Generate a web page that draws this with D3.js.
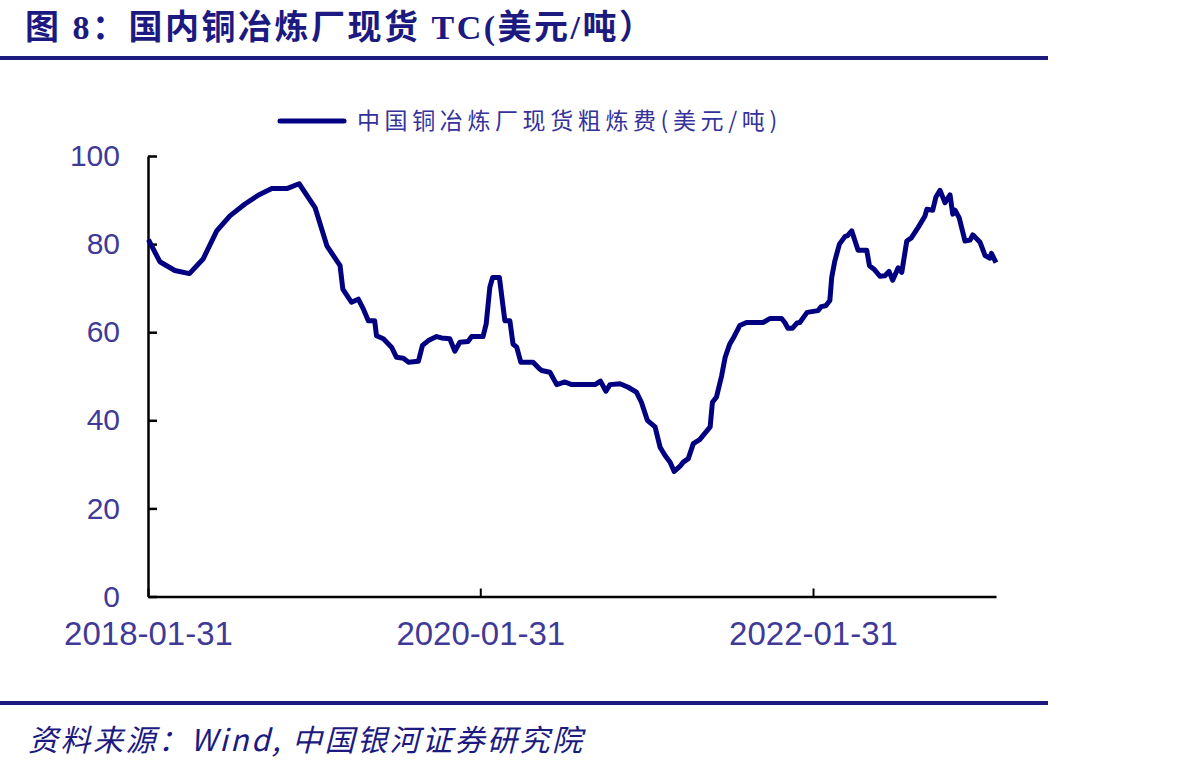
<!DOCTYPE html>
<html><head><meta charset="utf-8">
<script src="https://cdn.jsdelivr.net/npm/d3@7"></script>
<style>html,body{margin:0;padding:0;background:#fff;}svg{display:block;}</style>
</head><body>
<script>
const titleText = "图 8：国内铜冶炼厂现货 TC(美元/吨）";
const legendLabel = "中国铜冶炼厂现货粗炼费(美元/吨)";
const sourceText = "资料来源：Wind, 中国银河证券研究院";
const yTicks = [0, 20, 40, 60, 80, 100];
const xTickLabels = ["2018-01-31", "2020-01-31", "2022-01-31"];
const dates = [
"2018-02-01","2018-02-26","2018-03-31","2018-05-02","2018-06-01","2018-07-01","2018-07-30","2018-09-01","2018-09-30","2018-10-30",
"2018-12-02","2018-12-29","2019-02-02","2019-02-28","2019-03-29","2019-04-04","2019-04-23","2019-05-08","2019-05-19","2019-05-30",
"2019-06-13","2019-06-17","2019-07-02","2019-07-20","2019-07-31","2019-08-15","2019-08-26","2019-09-17","2019-09-26","2019-10-09",
"2019-10-27","2019-11-07","2019-11-25","2019-12-06","2019-12-17","2020-01-04","2020-01-12","2020-02-06","2020-02-13","2020-02-21",
"2020-02-27","2020-03-13","2020-03-25","2020-04-05","2020-04-12","2020-04-20","2020-04-29","2020-05-26","2020-06-09","2020-06-14",
"2020-07-02","2020-07-17","2020-08-04","2020-08-19","2020-10-09","2020-10-21","2020-11-02","2020-11-11","2020-12-03","2020-12-21",
"2021-01-08","2021-01-19","2021-02-01","2021-02-18","2021-03-01","2021-03-12","2021-03-23","2021-04-01","2021-04-14","2021-04-21",
"2021-05-02","2021-05-13","2021-05-27","2021-06-19","2021-06-24","2021-07-03","2021-07-14","2021-07-22","2021-08-01","2021-08-08",
"2021-08-23","2021-09-07","2021-10-13","2021-10-28","2021-11-23","2021-11-30","2021-12-07","2021-12-17","2021-12-27","2022-01-02",
"2022-01-18","2022-02-11","2022-02-18","2022-02-28","2022-03-09","2022-03-13","2022-03-20","2022-03-30","2022-04-11","2022-04-17",
"2022-04-26","2022-05-10","2022-05-29","2022-06-04","2022-06-14","2022-06-27","2022-07-08","2022-07-17","2022-07-25","2022-08-06",
"2022-08-14","2022-08-25","2022-09-04","2022-09-19","2022-10-04","2022-10-08","2022-10-21","2022-10-28","2022-11-06","2022-11-17",
"2022-11-28","2022-12-04","2022-12-09","2022-12-18","2022-12-31","2023-01-11","2023-01-17","2023-02-02","2023-02-05","2023-02-13",
"2023-02-24","2023-02-27","2023-03-09"
];
const tcValues = [
81.0,76.0,74.0,73.3,76.6,83.0,86.4,89.1,91.1,92.6,
92.6,93.7,88.3,79.6,75.1,69.8,66.8,67.5,65.3,62.6,
62.6,59.2,58.5,56.6,54.3,54.1,53.2,53.4,57.0,58.1,
59.0,58.7,58.5,55.7,57.7,57.9,59.0,59.0,61.9,70.2,
72.4,72.4,62.6,62.6,57.3,56.6,53.2,53.2,51.7,51.3,
50.9,48.1,48.7,48.1,48.1,48.9,46.6,48.1,48.3,47.5,
46.4,44.1,40.0,38.5,33.9,32.0,30.5,28.4,29.6,30.5,
31.3,34.7,35.6,38.5,44.1,45.3,50.0,54.3,57.3,58.5,
61.5,62.2,62.2,63.1,63.1,62.2,60.9,60.9,62.1,62.2,
64.5,64.9,65.8,66.0,67.2,72.4,76.2,80.0,81.7,81.9,
83.0,78.6,78.6,75.1,74.3,72.7,72.8,73.8,71.8,74.6,
73.6,80.7,81.4,83.8,86.4,87.9,87.7,90.7,92.2,89.4,
91.2,86.8,87.7,86.0,80.7,80.9,82.1,80.4,79.6,77.4,
76.8,77.9,75.8
];

const W = 1181, H = 771;
const navy = "#1c1a80";
const labelColor = "#3f3a98";
const parse = d3.timeParse("%Y-%m-%d");
const data = dates.map((d, i) => ({date: parse(d), value: tcValues[i]}));

const svg = d3.select("body").append("svg").attr("width", W).attr("height", H);
svg.append("rect").attr("width", W).attr("height", H).attr("fill", "#fff");

// Title
svg.append("text").attr("x", 25).attr("y", 39)
  .attr("font-family", "'Liberation Serif','Noto Sans CJK SC',serif")
  .attr("font-weight", "bold").attr("font-size", 34).attr("letter-spacing", 2.5).attr("fill", navy)
  .text(titleText);
svg.append("rect").attr("x", 0).attr("y", 56).attr("width", 1048).attr("height", 4).attr("fill", navy);

// Scales
const x = d3.scaleTime().domain([parse("2018-01-31"), parse("2023-03-09")]).range([148, 996]);
const y = d3.scaleLinear().domain([0, 100]).range([596.5, 156]);

// Legend
const lg = svg.append("g");
lg.append("line").attr("x1", 280).attr("x2", 344).attr("y1", 121).attr("y2", 121)
  .attr("stroke", "#000080").attr("stroke-width", 5).attr("stroke-linecap", "round");
lg.append("text").attr("x", 357).attr("y", 129)
  .attr("font-family", "'Noto Sans CJK SC',sans-serif").attr("font-size", 23)
  .attr("letter-spacing", 4.6).attr("fill", "#35329a").text(legendLabel);

// Y axis
const yAxis = d3.axisLeft(y).tickValues(yTicks).tickSizeInner(-9).tickSizeOuter(0).tickPadding(28);
const gy = svg.append("g").attr("transform", "translate(148,0)").call(yAxis);
gy.select(".domain").attr("stroke", "#000").attr("stroke-width", 2.5);
gy.selectAll(".tick line").attr("stroke", "#000").attr("stroke-width", 2.5);
gy.selectAll(".tick text").attr("font-family", "'Liberation Sans',Arial,sans-serif")
  .attr("font-size", 30).attr("fill", labelColor);

// X axis
const xAxis = d3.axisBottom(x).tickValues(xTickLabels.map(parse))
  .tickFormat(d3.timeFormat("%Y-%m-%d")).tickSizeInner(-8).tickSizeOuter(0).tickPadding(25);
const gx = svg.append("g").attr("transform", "translate(0,596.5)").call(xAxis);
gx.select(".domain").attr("stroke", "#000").attr("stroke-width", 2.5);
gx.selectAll(".tick line").attr("stroke", "#000").attr("stroke-width", 2);
gx.selectAll(".tick text").attr("font-family", "'Liberation Sans',Arial,sans-serif")
  .attr("font-size", 33).attr("fill", labelColor);

// Line
const line = d3.line().x(d => x(d.date)).y(d => y(d.value));
svg.append("path").datum(data).attr("d", line).attr("fill", "none")
  .attr("stroke", "#000080").attr("stroke-width", 5)
  .attr("stroke-linejoin", "round").attr("stroke-linecap", "butt");

// Footer
svg.append("rect").attr("x", 0).attr("y", 701).attr("width", 1048).attr("height", 4).attr("fill", navy);
svg.append("text").attr("x", 28).attr("y", 751)
  .attr("font-family", "'Noto Sans CJK SC',sans-serif").attr("font-style", "italic")
  .attr("font-size", 30).attr("letter-spacing", 2.5).attr("fill", navy).text(sourceText);
</script>
</body></html>
